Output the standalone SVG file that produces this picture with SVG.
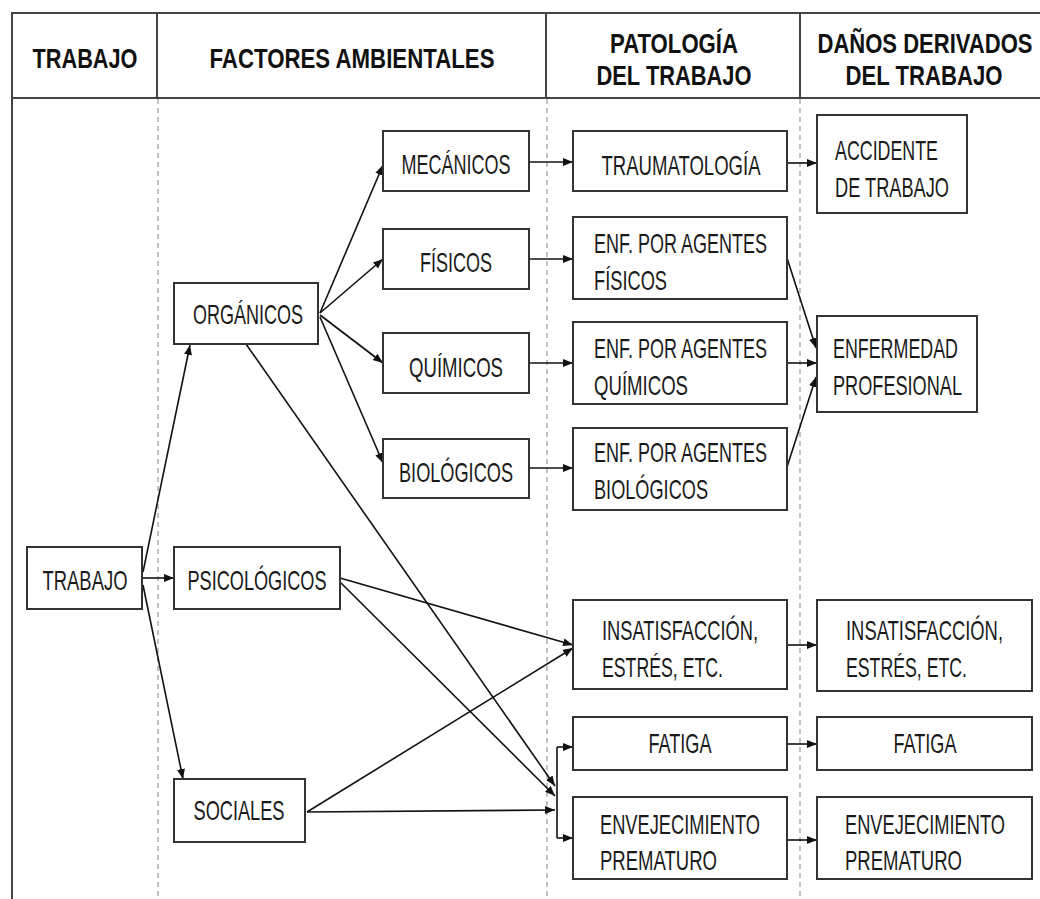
<svg xmlns="http://www.w3.org/2000/svg" width="1040" height="899" viewBox="0 0 1040 899">
<defs>
<marker id="ah" markerUnits="userSpaceOnUse" markerWidth="11" markerHeight="9" refX="10" refY="4" orient="auto">
<path d="M0,0 L10,4 L0,8 Z" fill="#111"/>
</marker>
<style>
.frame{stroke:#444;stroke-width:2;fill:none}
.dash{stroke:#999;stroke-width:1.2;stroke-dasharray:5,4;fill:none}
.box{fill:#fff;stroke:#333;stroke-width:2}
.t{font-family:"Liberation Sans Narrow","Liberation Sans",Arial,sans-serif;font-size:28px;fill:#1a1a1a}
.h{font-family:"Liberation Sans Narrow","Liberation Sans",Arial,sans-serif;font-size:28px;font-weight:bold;fill:#111}
.c{text-anchor:middle}
.ln{stroke:#111;stroke-width:1.6;fill:none;marker-end:url(#ah)}
.ln0{stroke:#111;stroke-width:1.6;fill:none}
</style>
</defs>
<rect width="1040" height="899" fill="#fff"/>
<g id="frame">
<line class="dash" x1="158" y1="99" x2="158" y2="899"/>
<line class="dash" x1="547" y1="99" x2="547" y2="899"/>
<line class="dash" x1="800" y1="99" x2="800" y2="899"/>
<line class="frame" x1="11" y1="13" x2="1040" y2="13"/>
<line class="frame" x1="11" y1="98" x2="1040" y2="98"/>
<line class="frame" x1="12" y1="12" x2="12" y2="899"/>
<line class="frame" x1="157" y1="13" x2="157" y2="98"/>
<line class="frame" x1="546" y1="13" x2="546" y2="98"/>
<line class="frame" x1="800" y1="13" x2="800" y2="98"/>
</g>
<g id="headers">
<text class="h c" x="85" y="68" textLength="105" lengthAdjust="spacingAndGlyphs">TRABAJO</text>
<text class="h c" x="352" y="68" textLength="285" lengthAdjust="spacingAndGlyphs">FACTORES AMBIENTALES</text>
<text class="h c" x="674" y="53" textLength="128" lengthAdjust="spacingAndGlyphs">PATOLOGÍA</text>
<text class="h c" x="674" y="85" textLength="155" lengthAdjust="spacingAndGlyphs">DEL TRABAJO</text>
<text class="h c" x="925" y="53" textLength="215" lengthAdjust="spacingAndGlyphs">DAÑOS DERIVADOS</text>
<text class="h c" x="924" y="85" textLength="157" lengthAdjust="spacingAndGlyphs">DEL TRABAJO</text>
</g>
<g id="connectors">
<line class="ln" x1="143" y1="572" x2="190" y2="345"/>
<line class="ln" x1="142" y1="578" x2="174" y2="578"/>
<line class="ln" x1="143" y1="585" x2="183" y2="779"/>
<line class="ln" x1="320" y1="313" x2="383" y2="165"/>
<line class="ln" x1="320" y1="313" x2="383" y2="259"/>
<line class="ln" x1="320" y1="315" x2="383" y2="363"/>
<line class="ln" x1="320" y1="317" x2="383" y2="463"/>
<line class="ln" x1="246" y1="344" x2="555" y2="786"/>
<line class="ln" x1="340" y1="578" x2="573" y2="645"/>
<line class="ln" x1="340" y1="582" x2="555" y2="796"/>
<line class="ln" x1="307" y1="812" x2="573" y2="648"/>
<line class="ln" x1="307" y1="812" x2="555" y2="810"/>
<line class="ln0" x1="557" y1="747" x2="557" y2="838"/>
<line class="ln" x1="557" y1="747" x2="573" y2="747"/>
<line class="ln" x1="557" y1="838" x2="573" y2="838"/>
<line class="ln" x1="529" y1="162" x2="573" y2="162"/>
<line class="ln" x1="529" y1="259" x2="573" y2="259"/>
<line class="ln" x1="529" y1="363" x2="573" y2="363"/>
<line class="ln" x1="529" y1="468" x2="573" y2="468"/>
<line class="ln" x1="787" y1="163" x2="817" y2="163"/>
<line class="ln" x1="787" y1="258" x2="816" y2="348"/>
<line class="ln" x1="787" y1="363" x2="817" y2="363"/>
<line class="ln" x1="787" y1="467" x2="816" y2="377"/>
<line class="ln" x1="787" y1="645" x2="817" y2="645"/>
<line class="ln" x1="787" y1="744" x2="817" y2="744"/>
<line class="ln" x1="787" y1="840" x2="817" y2="840"/>
</g>
<g id="n-trabajo"><rect class="box" x="27" y="547" width="115" height="62"/><text class="t c" x="85" y="590" textLength="85" lengthAdjust="spacingAndGlyphs">TRABAJO</text></g>
<g id="n-organicos"><rect class="box" x="174" y="283" width="144" height="61"/><text class="t c" x="248" y="324" textLength="110" lengthAdjust="spacingAndGlyphs">ORGÁNICOS</text></g>
<g id="n-psicologicos"><rect class="box" x="174" y="547" width="166" height="62"/><text class="t c" x="257" y="590" textLength="139" lengthAdjust="spacingAndGlyphs">PSICOLÓGICOS</text></g>
<g id="n-sociales"><rect class="box" x="174" y="779" width="131" height="63"/><text class="t c" x="239" y="820" textLength="91" lengthAdjust="spacingAndGlyphs">SOCIALES</text></g>
<g id="n-mecanicos"><rect class="box" x="383" y="131" width="146" height="60"/><text class="t c" x="456" y="174" textLength="109" lengthAdjust="spacingAndGlyphs">MECÁNICOS</text></g>
<g id="n-fisicos"><rect class="box" x="383" y="229" width="146" height="60"/><text class="t c" x="456" y="272" textLength="72" lengthAdjust="spacingAndGlyphs">FÍSICOS</text></g>
<g id="n-quimicos"><rect class="box" x="383" y="333" width="146" height="60"/><text class="t c" x="456" y="377" textLength="94" lengthAdjust="spacingAndGlyphs">QUÍMICOS</text></g>
<g id="n-biologicos"><rect class="box" x="383" y="439" width="146" height="59"/><text class="t c" x="456" y="482" textLength="114" lengthAdjust="spacingAndGlyphs">BIOLÓGICOS</text></g>
<g id="n-traumatologia"><rect class="box" x="573" y="131" width="214" height="60"/><text class="t c" x="681" y="175" textLength="159" lengthAdjust="spacingAndGlyphs">TRAUMATOLOGÍA</text></g>
<g id="n-enf-fisicos"><rect class="box" x="573" y="217" width="214" height="82"/><text class="t" x="594" y="253" textLength="173" lengthAdjust="spacingAndGlyphs">ENF. POR AGENTES</text><text class="t" x="594" y="290" textLength="73" lengthAdjust="spacingAndGlyphs">FÍSICOS</text></g>
<g id="n-enf-quimicos"><rect class="box" x="573" y="322" width="214" height="82"/><text class="t" x="594" y="358" textLength="173" lengthAdjust="spacingAndGlyphs">ENF. POR AGENTES</text><text class="t" x="594" y="395" textLength="94" lengthAdjust="spacingAndGlyphs">QUÍMICOS</text></g>
<g id="n-enf-biologicos"><rect class="box" x="573" y="428" width="214" height="82"/><text class="t" x="594" y="462" textLength="173" lengthAdjust="spacingAndGlyphs">ENF. POR AGENTES</text><text class="t" x="594" y="499" textLength="114" lengthAdjust="spacingAndGlyphs">BIOLÓGICOS</text></g>
<g id="n-insat-pat"><rect class="box" x="573" y="600" width="214" height="89"/><text class="t" x="602" y="640" textLength="156" lengthAdjust="spacingAndGlyphs">INSATISFACCIÓN,</text><text class="t" x="602" y="677" textLength="121" lengthAdjust="spacingAndGlyphs">ESTRÉS, ETC.</text></g>
<g id="n-fatiga-pat"><rect class="box" x="573" y="717" width="214" height="53"/><text class="t c" x="680" y="753" textLength="63" lengthAdjust="spacingAndGlyphs">FATIGA</text></g>
<g id="n-env-pat"><rect class="box" x="573" y="797" width="214" height="82"/><text class="t" x="600" y="834" textLength="160" lengthAdjust="spacingAndGlyphs">ENVEJECIMIENTO</text><text class="t" x="600" y="870" textLength="117" lengthAdjust="spacingAndGlyphs">PREMATURO</text></g>
<g id="n-accidente"><rect class="box" x="817" y="115" width="150" height="98"/><text class="t" x="835" y="160" textLength="103" lengthAdjust="spacingAndGlyphs">ACCIDENTE</text><text class="t" x="835" y="197" textLength="114" lengthAdjust="spacingAndGlyphs">DE TRABAJO</text></g>
<g id="n-enfermedad"><rect class="box" x="817" y="316" width="160" height="96"/><text class="t" x="833" y="358" textLength="125" lengthAdjust="spacingAndGlyphs">ENFERMEDAD</text><text class="t" x="833" y="395" textLength="129" lengthAdjust="spacingAndGlyphs">PROFESIONAL</text></g>
<g id="n-insat-dan"><rect class="box" x="817" y="600" width="215" height="91"/><text class="t" x="846" y="640" textLength="157" lengthAdjust="spacingAndGlyphs">INSATISFACCIÓN,</text><text class="t" x="846" y="677" textLength="121" lengthAdjust="spacingAndGlyphs">ESTRÉS, ETC.</text></g>
<g id="n-fatiga-dan"><rect class="box" x="817" y="717" width="215" height="53"/><text class="t c" x="925" y="753" textLength="63" lengthAdjust="spacingAndGlyphs">FATIGA</text></g>
<g id="n-env-dan"><rect class="box" x="817" y="797" width="215" height="82"/><text class="t" x="845" y="834" textLength="160" lengthAdjust="spacingAndGlyphs">ENVEJECIMIENTO</text><text class="t" x="845" y="870" textLength="117" lengthAdjust="spacingAndGlyphs">PREMATURO</text></g>
</svg>
